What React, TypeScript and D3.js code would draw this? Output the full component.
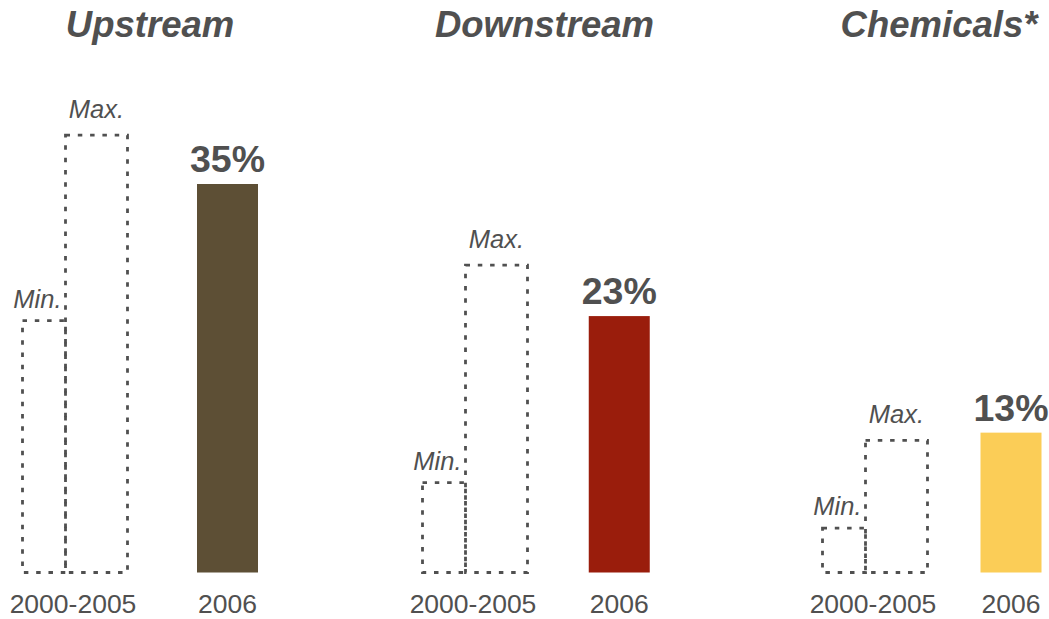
import React from "react";
import * as d3 from "d3";

const panels = ["Upstream", "Downstream", "Chemicals*"];
const minValues = [22.7, 8.1, 4.0];
const maxValues = [39.4, 27.7, 11.9];
const values2006 = [35, 23.1, 12.6];
const valueLabels = ["35%", "23%", "13%"];
const categoryLabels = ["2000-2005", "2006"];
const barColors = ["#5d4f35", "#9a1d0c", "#fbcd57"];

const W = 1049;
const H = 619;
const TEXT = "#505050";
const FONT = "'Liberation Sans', Arial, sans-serif";

export default function App() {
  const idx = panels.map((_, i) => i);
  const y = d3.scaleLinear().domain([0, 40]).range([572.5, 128.5]);
  const titleX = d3.scalePoint<number>().domain(idx).range([150, 939]);
  const groupX = d3.scalePoint<number>().domain(idx).range([75, 875]);
  const barX = d3.scalePoint<number>().domain(idx).range([227.5, 1011]);
  const inner = d3.scaleLinear().domain([0, 1]).range([-52.5, 52.5]);
  const minW = 43;
  const barW = 61;

  return (
    <svg
      width={W}
      height={H}
      style={{ position: "absolute", left: 0, top: 0, display: "block", background: "#fff" }}
      fontFamily={FONT}
    >
      {idx.map((i) => {
        const gx = groupX(i)!;
        const bx = barX(i)!;
        const minL = gx + inner(0);
        const minR = minL + minW;
        const maxR = gx + inner(1);
        const y0 = y(0);
        const yMin = y(minValues[i]);
        const yMax = y(maxValues[i]);
        const yBar = y(values2006[i]);
        const dash = { stroke: TEXT, strokeWidth: 2.8, strokeDasharray: "4.5 7.8", fill: "none" };
        return (
          <g key={panels[i]}>
            <text
              x={titleX(i)}
              y={37}
              textAnchor="middle"
              fontSize={36.5}
              fontWeight="bold"
              fontStyle="italic"
              fill={TEXT}
            >
              {panels[i]}
            </text>
            <rect x={minL} y={yMin} width={minR - minL} height={y0 - yMin} {...dash} />
            <rect x={minR} y={yMax} width={maxR - minR} height={y0 - yMax} {...dash} />
            <text x={minR - 4} y={yMin - 13} textAnchor="end" fontSize={25.5} fontStyle="italic" fill={TEXT}>
              Min.
            </text>
            <text x={(minR + maxR) / 2} y={yMax - 17} textAnchor="middle" fontSize={25.5} fontStyle="italic" fill={TEXT}>
              Max.
            </text>
            <rect x={bx - barW / 2} y={yBar} width={barW} height={y0 - yBar} fill={barColors[i]} />
            <text x={bx} y={yBar - 12} textAnchor="middle" fontSize={37.5} fontWeight="bold" fill={TEXT}>
              {valueLabels[i]}
            </text>
            <text x={gx - 2} y={613} textAnchor="middle" fontSize={26.5} fill={TEXT}>
              {categoryLabels[0]}
            </text>
            <text x={bx} y={613} textAnchor="middle" fontSize={26.5} fill={TEXT}>
              {categoryLabels[1]}
            </text>
          </g>
        );
      })}
    </svg>
  );
}
